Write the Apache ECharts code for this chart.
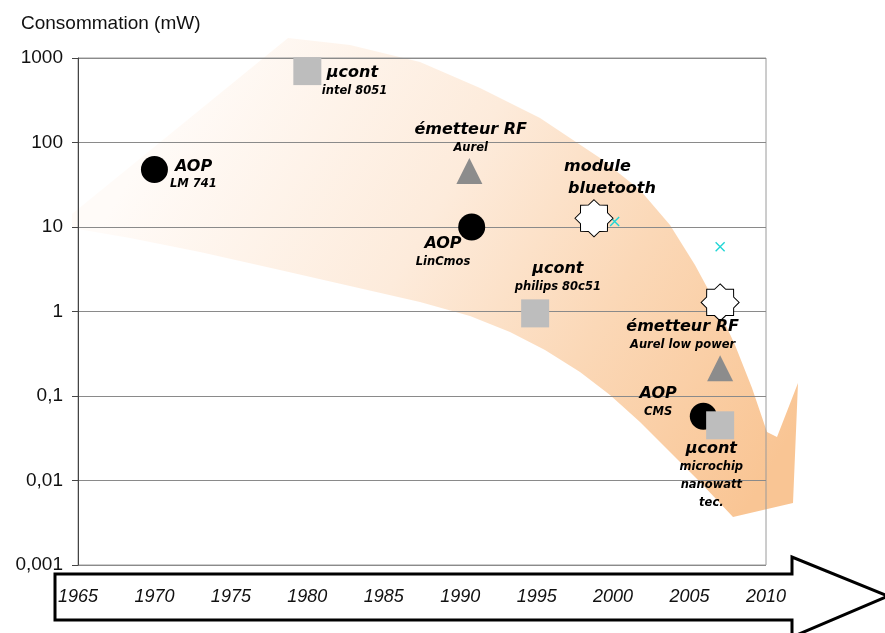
<!DOCTYPE html>
<html>
<head>
<meta charset="utf-8">
<script src="https://cdn.jsdelivr.net/npm/echarts@6/dist/echarts.min.js"></script>
<style>
  html, body { margin: 0; padding: 0; background: #fff; }
  #chart { width: 885px; height: 633px; }
</style>
</head>
<body>
<div id="chart"></div>
<script>
// Consommation des composants au fil des années (mW, échelle log)
const circleYears = [1970, 1990.75, 2005.9];
const circleValues = [48, 10, 0.0575];
const circleLines = [['AOP', 'LM 741'], ['AOP', 'LinCmos'], ['AOP', 'CMS']];

const squareYears = [1980, 1994.9, 2007];
const squareValues = [700, 0.95, 0.045];
const squareLines = [['µcont', 'intel 8051'], ['µcont', 'philips 80c51'], ['µcont', 'microchip', 'nanowatt', 'tec.']];

const triangleYears = [1990.6, 2007];
const triangleValues = [46, 0.213];
const triangleLines = [['émetteur RF', 'Aurel'], ['émetteur RF', 'Aurel low power']];

const starYears = [1998.75, 2007];
const starValues = [12.7, 1.28];
const starLines = [['module', 'bluetooth'], []];

const crossYears = [2000.1, 2007];
const crossValues = [11.6, 5.85];

const yearTicks = ['1965', '1970', '1975', '1980', '1985', '1990', '1995', '2000', '2005', '2010'];
const powerTicks = ['0,001', '0,01', '0,1', '1', '10', '100', '1000'];

// ---- label placement (offsets from the marker centre, in px) ----
const placements = {
  circle: [
    { align: 'left', dx: 15.5, dy: 6, styles: ['ai', 'b'] },
    { align: 'center', dx: -28.7, dy: 26.3, styles: ['a', 'b'] },
    { align: 'center', dx: -45.2, dy: -13.3, styles: ['a', 'b'] }
  ],
  square: [
    { align: 'left', dx: 14.5, dy: 10.7, styles: ['ai', 'b'] },
    { align: 'center', dx: 22.7, dy: -35.2, styles: ['a', 'b'] },
    { align: 'center', dx: -8.8, dy: 50.5, styles: ['a', 'b', 'b', 'b'] }
  ],
  triangle: [
    { align: 'center', dx: 1.3, dy: -31.8, styles: ['a', 'b'] },
    { align: 'center', dx: -37.5, dy: -32.3, styles: ['a', 'b'] }
  ],
  star: [
    { align: 'left', dx: -30, dy: -40.3, styles: ['c', 'ci'] },
    null
  ]
};

const FONT = 'DejaVu Sans';
const AXIS_FONT = 'Liberation Sans';
const baseRich = { fontFamily: FONT, fontStyle: 'italic', fontWeight: 'bold', color: '#000' };
const rich = {
  a: Object.assign({ fontSize: 16, lineHeight: 18 }, baseRich),
  ai: Object.assign({ fontSize: 16, lineHeight: 18, padding: [0, 0, 0, 5] }, baseRich),
  b: Object.assign({ fontSize: 11.5, lineHeight: 18 }, baseRich),
  c: Object.assign({ fontSize: 16, lineHeight: 22 }, baseRich),
  ci: Object.assign({ fontSize: 16, lineHeight: 22, padding: [0, 0, 0, 4] }, baseRich)
};

function buildItems(years, values, lines, place) {
  return years.map(function (x, i) {
    const item = { value: [x, values[i]] };
    const p = place && place[i];
    if (p && lines && lines[i] && lines[i].length) {
      const text = lines[i].map(function (t, k) { return '{' + p.styles[k] + '|' + t + '}'; }).join('\n');
      item.label = {
        show: true,
        position: 'inside',
        offset: [p.dx, p.dy],
        align: p.align,
        verticalAlign: 'middle',
        formatter: text,
        color: '#000',
        opacity: 1,
        textBorderWidth: 0,
        rich: rich
      };
    } else {
      item.label = { show: false };
    }
    return item;
  });
}

// eight-pointed star outline
function starSymbol(points, ratio) {
  let d = '';
  for (let k = 0; k < points * 2; k++) {
    const r = (k % 2) ? 50 * ratio : 50;
    const a = -Math.PI / 2 + k * Math.PI / points;
    d += (k ? 'L' : 'M') + (50 + r * Math.cos(a)).toFixed(2) + ',' + (50 + r * Math.sin(a)).toFixed(2);
  }
  return 'path://' + d + 'Z';
}

const chart = echarts.init(document.getElementById('chart'), null, { renderer: 'canvas' });

const option = {
  backgroundColor: '#fff',
  animation: false,
  title: {
    text: 'Consommation (mW)',
    left: 16,
    top: 9,
    textStyle: { fontFamily: AXIS_FONT, fontSize: 19, fontWeight: 'normal', color: '#111' }
  },
  grid: {
    left: 78, right: 119, top: 58, bottom: 68,
    show: true, borderColor: '#9a9a9a', borderWidth: 1, backgroundColor: 'transparent'
  },
  graphic: [
    {
      // large curved trend arrow behind the points
      type: 'polygon',
      z: -10,
      silent: true,
      shape: {
        points: [
          [288, 38], [350, 45], [420, 62], [480, 88], [540, 118], [600, 158], [640, 190],
          [670, 225], [695, 265], [715, 302], [735, 345], [752, 388], [767, 432],
          [777, 437], [798, 383], [793, 503], [733, 517],
          [700, 482], [670, 452], [640, 422], [610, 395], [580, 372], [545, 350],
          [510, 332], [470, 316], [420, 302], [350, 286], [280, 270], [200, 252],
          [130, 238], [72, 228], [72, 214]
        ]
      },
      style: {
        fill: {
          type: 'linear', x: 170, y: 110, x2: 770, y2: 470, global: true,
          colorStops: [
            { offset: 0, color: '#FFFBF8' },
            { offset: 0.4, color: '#FDEBDB' },
            { offset: 0.68, color: '#FBD8B7' },
            { offset: 1, color: '#F9C594' }
          ]
        }
      }
    },
    {
      // time arrow under the plot
      type: 'polygon',
      z: 1,
      silent: true,
      shape: {
        points: [[55, 574], [792, 574], [792, 557], [888, 596], [792, 637], [792, 620], [55, 620]]
      },
      style: { fill: '#fff', stroke: '#000', lineWidth: 3, lineJoin: 'miter' }
    }
  ],
  xAxis: {
    type: 'value',
    min: 1965,
    max: 2010,
    interval: 5,
    z: 10,
    axisLine: { show: false },
    axisTick: { show: false },
    splitLine: { show: false },
    axisLabel: {
      margin: 23,
      fontFamily: AXIS_FONT,
      fontStyle: 'italic',
      fontSize: 18,
      color: '#111',
      formatter: function (v) {
        const i = Math.round((v - 1965) / 5);
        return yearTicks[i] || '';
      }
    }
  },
  yAxis: {
    type: 'log',
    logBase: 10,
    min: 0.001,
    max: 1000,
    splitNumber: 6,
    axisLine: { show: true, lineStyle: { color: '#444', width: 1 } },
    axisTick: { show: true, length: 6, lineStyle: { color: '#444' } },
    splitLine: { show: true, lineStyle: { color: '#8a8a8a', width: 1 } },
    axisLabel: {
      margin: 15,
      fontFamily: AXIS_FONT,
      fontSize: 19,
      color: '#111',
      formatter: function (v) {
        const i = Math.round(Math.log10(v)) + 3;
        return powerTicks[i] || '';
      }
    }
  },
  series: [
    {
      type: 'scatter',
      name: 'cross',
      symbol: 'path://M0,0L10,10M10,0L0,10',
      symbolSize: 9,
      itemStyle: { color: 'transparent', borderColor: '#22D6D6', borderWidth: 1.4, opacity: 1 },
      data: buildItems(crossYears, crossValues, null, null)
    },
    {
      type: 'scatter',
      name: 'circle',
      symbol: 'circle',
      symbolSize: 27,
      itemStyle: { color: '#000', opacity: 1 },
      data: buildItems(circleYears, circleValues, circleLines, placements.circle)
    },
    {
      type: 'scatter',
      name: 'square',
      symbol: 'rect',
      symbolSize: 28,
      itemStyle: { color: '#BDBDBD', opacity: 1 },
      data: buildItems(squareYears, squareValues, squareLines, placements.square)
    },
    {
      type: 'scatter',
      name: 'triangle',
      symbol: 'triangle',
      symbolSize: [26, 26],
      itemStyle: { color: '#8C8C8C', opacity: 1 },
      data: buildItems(triangleYears, triangleValues, triangleLines, placements.triangle)
    },
    {
      type: 'scatter',
      name: 'star',
      symbol: starSymbol(8, 0.77),
      symbolSize: [38, 37],
      itemStyle: { color: '#fff', borderColor: '#000', borderWidth: 1, opacity: 1 },
      data: buildItems(starYears, starValues, starLines, placements.star)
    }
  ]
};

chart.setOption(option);
</script>
</body>
</html>
